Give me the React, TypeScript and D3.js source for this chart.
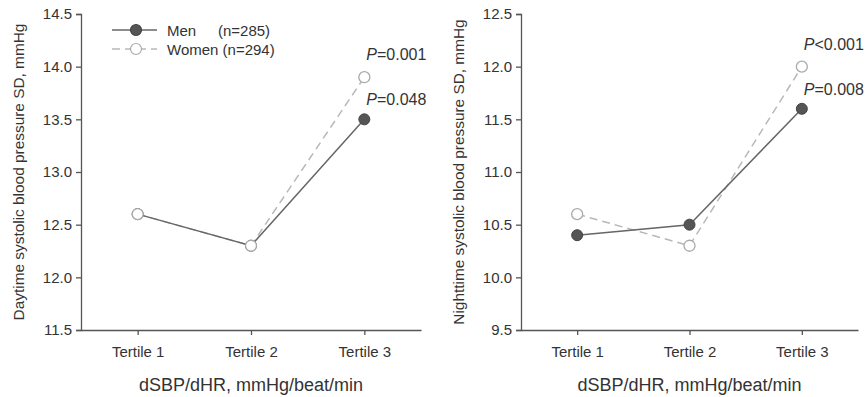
import { useEffect, useRef } from 'react';
import * as d3 from 'd3';

const categories = ['Tertile 1', 'Tertile 2', 'Tertile 3'];

const dayMen = [12.6, 12.3, 13.5];
const dayWomen = [12.6, 12.3, 13.9];
const nightMen = [10.4, 10.5, 11.6];
const nightWomen = [10.6, 10.3, 12.0];

const dayTicks = [11.5, 12.0, 12.5, 13.0, 13.5, 14.0, 14.5];
const nightTicks = [9.5, 10.0, 10.5, 11.0, 11.5, 12.0, 12.5];

const dayPLabels = [{ text: '=0.001', sign: 'women' }, { text: '=0.048', sign: 'men' }];
const nightPLabels = [{ text: '<0.001', sign: 'women' }, { text: '=0.008', sign: 'men' }];

const legendLabels = ['Men', 'Women (n=294)'];

const FONT = 'Liberation Sans, Arial, sans-serif';
const AXIS = '#555';
const TEXT = '#333';

const App = () => {
  const svgRef = useRef<SVGSVGElement>(null);

  useEffect(() => {
    const svg = d3.select(svgRef.current);
    svg.selectAll('*').remove();

    const top = 14;
    const bottom = 330;

    const drawPanel = (
      left: number,
      right: number,
      men: number[],
      women: number[],
      ticks: number[],
      title: string,
      titleX: number,
      pLabels: { text: string; sign: string }[],
      showLegend: boolean
    ) => {
      const g = svg.append('g');

      const x = d3.scalePoint().domain(categories).range([left, right]).padding(0.5);
      const y = d3.scaleLinear().domain([ticks[0], ticks[ticks.length - 1]]).range([bottom, top]);

      // Y axis
      const yAxis = g.append('g')
        .attr('transform', `translate(${left},0)`)
        .call(d3.axisLeft(y).tickValues(ticks).tickFormat(d3.format('.1f')).tickSize(5).tickPadding(4));
      yAxis.select('.domain').attr('stroke', AXIS).attr('stroke-width', 1.3);
      yAxis.selectAll('.tick line').attr('stroke', AXIS).attr('stroke-width', 1.3);
      yAxis.selectAll('.tick text').attr('fill', TEXT).style('font-family', FONT).style('font-size', '15px');

      // X axis
      const xAxis = g.append('g')
        .attr('transform', `translate(0,${bottom})`)
        .call(d3.axisBottom(x).tickSize(5).tickSizeOuter(0).tickPadding(11));
      xAxis.select('.domain').attr('stroke', AXIS).attr('stroke-width', 1.3);
      xAxis.selectAll('.tick line').attr('stroke', AXIS).attr('stroke-width', 1.3);
      xAxis.selectAll('.tick text').attr('fill', TEXT).style('font-family', FONT).style('font-size', '15px');

      // Axis titles
      g.append('text')
        .attr('x', (left + right) / 2)
        .attr('y', 391)
        .attr('text-anchor', 'middle')
        .attr('fill', TEXT)
        .style('font-family', FONT)
        .style('font-size', '18px')
        .text('dSBP/dHR, mmHg/beat/min');

      g.append('text')
        .attr('transform', `translate(${titleX},${(top + bottom) / 2}) rotate(-90)`)
        .attr('text-anchor', 'middle')
        .attr('fill', TEXT)
        .style('font-family', FONT)
        .style('font-size', '15.4px')
        .text(title);

      const line = d3.line<number>()
        .x((d, i) => x(categories[i]) as number)
        .y(d => y(d));

      // Women (dashed, open markers)
      g.append('path')
        .datum(women)
        .attr('fill', 'none')
        .attr('stroke', '#b8b8b8')
        .attr('stroke-width', 1.5)
        .attr('stroke-dasharray', '8,5')
        .attr('d', line);

      // Men (solid, filled markers)
      g.append('path')
        .datum(men)
        .attr('fill', 'none')
        .attr('stroke', '#666')
        .attr('stroke-width', 1.5)
        .attr('d', line);

      g.selectAll('.men-dot')
        .data(men)
        .enter().append('circle')
        .attr('class', 'men-dot')
        .attr('cx', (d, i) => x(categories[i]) as number)
        .attr('cy', d => y(d))
        .attr('r', 5.5)
        .attr('fill', '#555')
        .attr('stroke', '#444')
        .attr('stroke-width', 1);

      g.selectAll('.women-dot')
        .data(women)
        .enter().append('circle')
        .attr('class', 'women-dot')
        .attr('cx', (d, i) => x(categories[i]) as number)
        .attr('cy', d => y(d))
        .attr('r', 5.5)
        .attr('fill', '#fff')
        .attr('stroke', '#aaa')
        .attr('stroke-width', 1.3);

      // P value labels above the third points
      const lastX = x(categories[2]) as number;
      pLabels.forEach(p => {
        const v = p.sign === 'men' ? men[2] : women[2];
        const t = g.append('text')
          .attr('x', lastX + 2)
          .attr('y', y(v) - (p.sign === 'men' ? 14 : 17))
          .attr('fill', TEXT)
          .style('font-family', FONT)
          .style('font-size', '16px');
        t.append('tspan').style('font-style', 'italic').text('P');
        t.append('tspan').text(p.text);
      });

      if (showLegend) {
        const lg = g.append('g');
        const rows = [
          { y: 30, fill: '#555', stroke: '#666', dash: null as string | null, mk: '#444' },
          { y: 49, fill: '#fff', stroke: '#b8b8b8', dash: '8,5', mk: '#aaa' },
        ];
        rows.forEach((r, i) => {
          lg.append('line')
            .attr('x1', 112).attr('x2', 157)
            .attr('y1', r.y).attr('y2', r.y)
            .attr('stroke', r.stroke)
            .attr('stroke-width', 1.5)
            .attr('stroke-dasharray', r.dash);
          lg.append('circle')
            .attr('cx', 136).attr('cy', r.y).attr('r', 5.5)
            .attr('fill', r.fill).attr('stroke', r.mk).attr('stroke-width', 1.2);
          lg.append('text')
            .attr('x', 167).attr('y', r.y + 5.5)
            .attr('fill', TEXT)
            .style('font-family', FONT)
            .style('font-size', '15px')
            .text(legendLabels[i]);
        });
        lg.append('text')
          .attr('x', 218).attr('y', 35.5)
          .attr('fill', TEXT)
          .style('font-family', FONT)
          .style('font-size', '15px')
          .text('(n=285)');
      }
    };

    drawPanel(81, 421, dayMen, dayWomen, dayTicks,
      'Daytime systolic blood pressure SD, mmHg', 24, dayPLabels, true);
    drawPanel(521, 858, nightMen, nightWomen, nightTicks,
      'Nighttime systolic blood pressure SD, mmHg', 464, nightPLabels, false);
  }, []);

  return (
    <svg ref={svgRef} width={867} height={397}
      style={{ position: 'absolute', left: 0, top: 0, background: '#fff' }} />
  );
};

export default App;
